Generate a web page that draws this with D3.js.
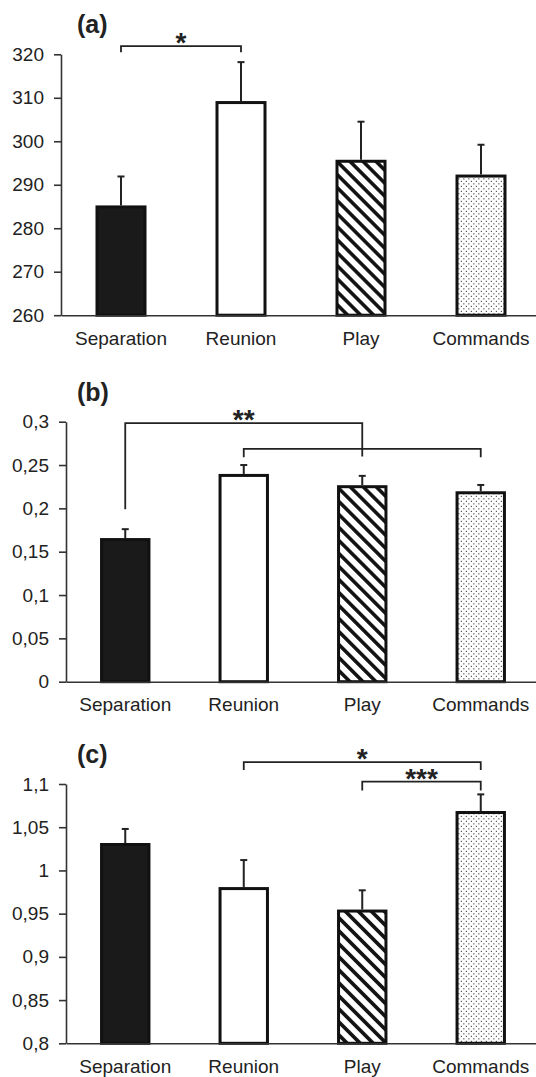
<!DOCTYPE html>
<html>
<head>
<meta charset="utf-8">
<script src="https://cdn.jsdelivr.net/npm/d3@7"></script>
<style>
  body { margin: 0; background: #fff; }
  svg text { font-family: "Liberation Sans", Arial, sans-serif; fill: #222; }
</style>
</head>
<body>
<script>
// categories and values
var categories = ["Separation", "Reunion", "Play", "Commands"];

var meansA = [284.9, 308.9, 295.4, 292.0];
var errA   = [7.0, 9.3, 9.1, 7.2];
var ticksA = [260, 270, 280, 290, 300, 310, 320];

var meansB = [0.164, 0.238, 0.225, 0.218];
var errB   = [0.012, 0.012, 0.0125, 0.009];
var ticksB = [0, 0.05, 0.1, 0.15, 0.2, 0.25, 0.3];

var meansC = [1.030, 0.979, 0.953, 1.067];
var errC   = [0.018, 0.033, 0.024, 0.021];
var ticksC = [0.8, 0.85, 0.9, 0.95, 1, 1.05, 1.1];

// significance brackets (values in data units)
var bracketsA = [
  {from: "Separation", to: "Reunion", top: 321.9, leftEnd: 320.5, rightEnd: 320.5, label: "*"}
];
var bracketsB = [
  {from: "Separation", to: "Play", top: 0.2984, leftEnd: 0.199, rightEnd: 0.2598, label: "**"},
  {from: "Reunion", to: "Commands", top: 0.2687, leftEnd: 0.259, rightEnd: 0.259, label: ""}
];
var bracketsC = [
  {from: "Reunion", to: "Commands", top: 1.1252, leftEnd: 1.1163, rightEnd: 1.1163, label: "*"},
  {from: "Play", to: "Commands", top: 1.1028, leftEnd: 1.0924, rightEnd: 1.0924, label: "***"}
];

var fills = ["#1a1a1a", "#ffffff", "url(#hatch)", "url(#dots)"];

var locale = d3.formatLocale({decimal: ",", thousands: ".", grouping: [3], currency: ["", ""]});
var fmt = locale.format(".2~f");

var svg = d3.select("body").append("svg")
    .attr("width", 536)
    .attr("height", 1077);

// patterns for the last two bars
var defs = svg.append("defs");
var hatch = defs.append("pattern")
    .attr("id", "hatch")
    .attr("patternUnits", "userSpaceOnUse")
    .attr("width", 9.2)
    .attr("height", 9.2)
    .attr("patternTransform", "rotate(-45)");
hatch.append("rect").attr("width", 9.2).attr("height", 9.2).attr("fill", "#fff");
hatch.append("line")
    .attr("x1", 4.6).attr("x2", 4.6).attr("y1", 0).attr("y2", 9.2)
    .attr("stroke", "#111").attr("stroke-width", 3.6);

var dots = defs.append("pattern")
    .attr("id", "dots")
    .attr("patternUnits", "userSpaceOnUse")
    .attr("width", 5)
    .attr("height", 5);
dots.append("rect").attr("width", 5).attr("height", 5).attr("fill", "#fff");
dots.append("rect").attr("x", 0.8).attr("y", 0.8).attr("width", 1.1).attr("height", 1.1).attr("fill", "#333");
dots.append("rect").attr("x", 3.3).attr("y", 3.3).attr("width", 1.1).attr("height", 1.1).attr("fill", "#333");

function DrawPanel(opt)
{
  var g = svg.append("g");

  var x = d3.scaleBand()
      .domain(categories)
      .range([opt.left, opt.right])
      .paddingInner(0.6)
      .paddingOuter(0.3);

  var y = d3.scaleLinear()
      .domain(opt.domain)
      .range([opt.bottom, opt.top]);

  // y axis
  var yAxis = g.append("g")
      .attr("transform", "translate(" + opt.left + ",0)")
      .call(d3.axisLeft(y).tickValues(opt.ticks).tickFormat(fmt).tickSize(7).tickSizeOuter(0).tickPadding(10));
  yAxis.selectAll("path, line").attr("stroke", "#333").attr("stroke-width", 1.6);
  yAxis.selectAll("text").style("font-size", "19px").attr("fill", "#222");

  // bars
  g.selectAll(".bar")
      .data(opt.means)
      .enter().append("rect")
      .attr("class", "bar")
      .attr("x", function(d, i) { return x(categories[i]); })
      .attr("y", function(d) { return y(d); })
      .attr("width", x.bandwidth())
      .attr("height", function(d) { return opt.bottom - y(d); })
      .attr("fill", function(d, i) { return fills[i]; })
      .attr("stroke", "#111")
      .attr("stroke-width", 3);

  // error bars
  var cx = function(i) { return x(categories[i]) + x.bandwidth() / 2; };
  g.selectAll(".err")
      .data(opt.means)
      .enter().append("line")
      .attr("x1", function(d, i) { return cx(i); })
      .attr("x2", function(d, i) { return cx(i); })
      .attr("y1", function(d) { return y(d) - 1.5; })
      .attr("y2", function(d, i) { return y(d + opt.err[i]); })
      .attr("stroke", "#222").attr("stroke-width", 2);
  g.selectAll(".cap")
      .data(opt.means)
      .enter().append("line")
      .attr("x1", function(d, i) { return cx(i) - 3.5; })
      .attr("x2", function(d, i) { return cx(i) + 3.5; })
      .attr("y1", function(d, i) { return y(d + opt.err[i]); })
      .attr("y2", function(d, i) { return y(d + opt.err[i]); })
      .attr("stroke", "#222").attr("stroke-width", 2);

  // x axis (drawn over the bar bottoms)
  var xAxis = g.append("g")
      .attr("transform", "translate(0," + opt.bottom + ")")
      .call(d3.axisBottom(x).tickSize(0).tickPadding(16));
  xAxis.select(".domain").attr("stroke", "#333").attr("stroke-width", 1.6);
  xAxis.selectAll("text").style("font-size", "19px").attr("fill", "#222");

  // brackets
  var bc = function(name) { return x(name) + x.bandwidth() / 2; };
  g.selectAll(".bracket")
      .data(opt.brackets)
      .enter().append("path")
      .attr("fill", "none")
      .attr("stroke", "#222")
      .attr("stroke-width", 1.8)
      .attr("d", function(d) {
        return "M" + bc(d.from) + "," + y(d.leftEnd) +
               "V" + y(d.top) +
               "H" + bc(d.to) +
               "V" + y(d.rightEnd);
      });
  g.selectAll(".stars")
      .data(opt.brackets.filter(function(d) { return d.label; }))
      .enter().append("text")
      .attr("x", function(d) { return (bc(d.from) + bc(d.to)) / 2; })
      .attr("y", function(d) { return y(d.top) + 6; })
      .attr("text-anchor", "middle")
      .style("font-size", "28px")
      .style("font-weight", "bold")
      .text(function(d) { return d.label; });

  // panel letter
  g.append("text")
      .attr("x", 77)
      .attr("y", opt.top - 21)
      .style("font-size", "25px")
      .style("font-weight", "bold")
      .text(opt.title);
}

DrawPanel({title: "(a)", means: meansA, err: errA, ticks: ticksA, brackets: bracketsA,
           domain: [260, 320], left: 61, right: 541, top: 54.3, bottom: 315.2});
DrawPanel({title: "(b)", means: meansB, err: errB, ticks: ticksB, brackets: bracketsB,
           domain: [0, 0.3], left: 66, right: 540, top: 421.7, bottom: 681.7});
DrawPanel({title: "(c)", means: meansC, err: errC, ticks: ticksC, brackets: bracketsC,
           domain: [0.8, 1.1], left: 66, right: 540, top: 784, bottom: 1043.3});
</script>
</body>
</html>
